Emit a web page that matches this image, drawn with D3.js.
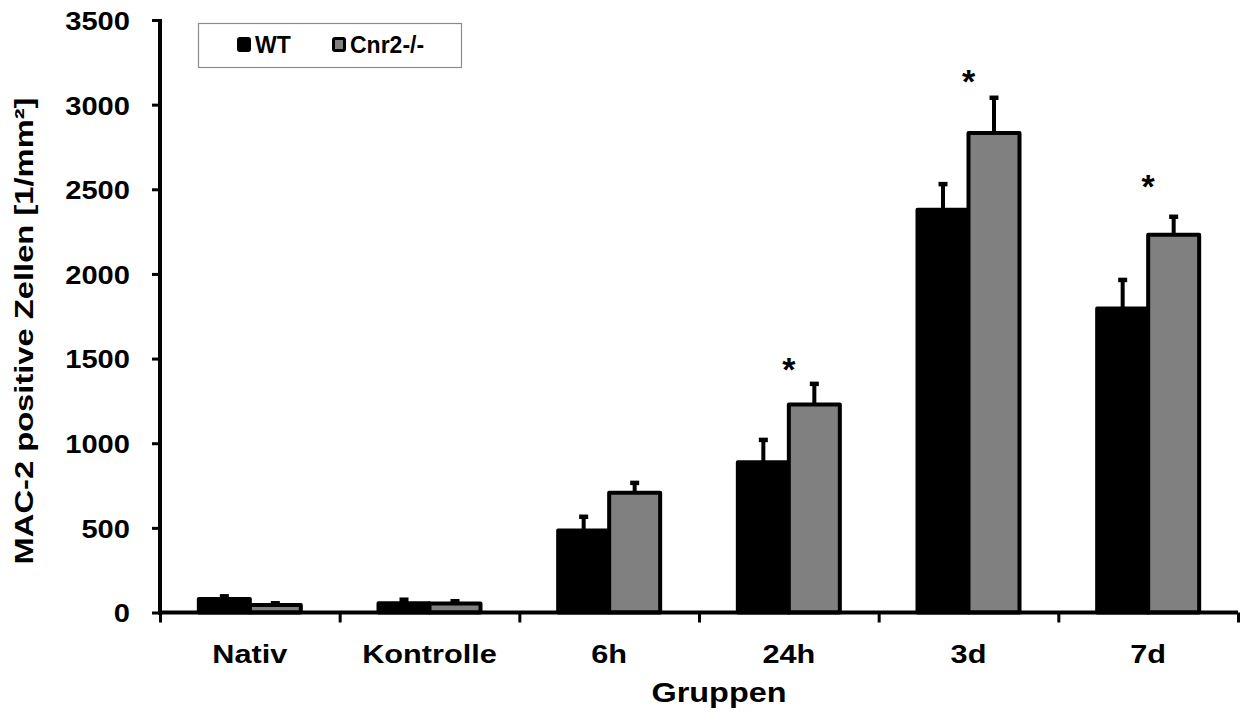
<!DOCTYPE html>
<html lang="de">
<head>
    <meta charset="UTF-8">
    <title>MAC-2 positive Zellen</title>
    <script src="https://d3js.org/d3.v7.min.js"></script>
    <style>
        body { margin: 0; background: #ffffff; }
        text { font-family: "Liberation Sans", Arial, sans-serif; font-weight: bold; fill: #000000; }
        .axis path, .axis line { stroke: #000000; }
    </style>
</head>
<body>
    <svg id="chart" width="1243" height="713"></svg>
    <script>
        // Werte
        const groups = ["Nativ", "Kontrolle", "6h", "24h", "3d", "7d"];
        const series = ["WT", "Cnr2-/-"];
        const wtMean = [80, 55, 484, 887, 2379, 1796];
        const wtErr = [17, 22, 83, 134, 153, 170];
        const koMean = [45, 53, 708, 1228, 2833, 2231];
        const koErr = [11, 15, 59, 124, 209, 108];
        // Sternchen (signifikant), Höhe in Einheiten der y-Achse
        const sigLevel = [null, null, null, 1487, 3188, 2568];
        const yTicks = [0, 500, 1000, 1500, 2000, 2500, 3000, 3500];
        const colors = ["#000000", "#808080"];

        const svg = d3.select("#chart");
        const plotLeft = 160, plotRight = 1238, plotTop = 20, plotBottom = 612.5;

        const x = d3.scaleBand().domain(groups).range([plotLeft, plotRight]);
        const xEdge = d3.scaleLinear().domain([0, groups.length]).range([plotLeft, plotRight]);
        const y = d3.scaleLinear().domain([0, 3500]).range([plotBottom, plotTop]);
        const barW = 51;

        const data = groups.map((g, i) => ({
            group: g,
            bars: [
                {s: 0, mean: wtMean[i], err: wtErr[i]},
                {s: 1, mean: koMean[i], err: koErr[i]}
            ],
            sig: sigLevel[i]
        }));

        const gGroup = svg.append("g")
            .selectAll("g")
            .data(data)
            .join("g")
            .attr("transform", d => `translate(${x(d.group) + x.bandwidth() / 2},0)`);

        // error bars (nur nach oben)
        const err = gGroup.selectAll("g.err")
            .data(d => d.bars)
            .join("g")
            .attr("class", "err");
        err.append("rect")
            .attr("x", d => (d.s === 0 ? -barW / 2 : barW / 2) - 2)
            .attr("y", d => y(d.mean + d.err))
            .attr("width", 4)
            .attr("height", d => y(d.mean) - y(d.mean + d.err))
            .attr("fill", "#000");
        err.append("rect")
            .attr("x", d => (d.s === 0 ? -barW / 2 : barW / 2) - 4.5)
            .attr("y", d => y(d.mean + d.err) - 2)
            .attr("width", 9)
            .attr("height", 4.5)
            .attr("fill", "#000");

        // bars
        gGroup.selectAll("rect.bar")
            .data(d => d.bars)
            .join("rect")
            .attr("class", "bar")
            .attr("x", d => d.s === 0 ? -barW : 0)
            .attr("y", d => y(d.mean))
            .attr("width", barW)
            .attr("height", d => y(0) - y(d.mean))
            .attr("fill", d => colors[d.s])
            .attr("stroke", "#000")
            .attr("stroke-width", 4)
            .attr("stroke-linejoin", "round");

        // Sternchen
        gGroup.filter(d => d.sig !== null)
            .append("text")
            .attr("x", 0)
            .attr("y", d => y(d.sig))
            .attr("dy", "0.6em")
            .attr("text-anchor", "middle")
            .style("font-size", "34px")
            .text("*");

        // y axis
        const yAxis = svg.append("g")
            .attr("class", "axis")
            .attr("transform", `translate(${plotLeft},0)`)
            .call(d3.axisLeft(y).tickValues(yTicks).tickSize(8).tickSizeOuter(0).tickFormat(d3.format("d")));
        yAxis.select(".domain").attr("stroke-width", 4).attr("d", `M0,${plotTop - 1}V${plotBottom + 2}`);
        yAxis.selectAll(".tick line").attr("stroke-width", 3);
        yAxis.selectAll(".tick text")
            .attr("x", 0)
            .attr("dy", "0.36em")
            .attr("text-anchor", "end")
            .attr("transform", "translate(-30,0) scale(1.12,1)")
            .style("font-size", "26px");

        // x axis: Linie und Teilstriche an den Gruppengrenzen
        const xAxis = svg.append("g")
            .attr("class", "axis")
            .attr("transform", `translate(0,${plotBottom})`)
            .call(d3.axisBottom(xEdge).tickValues(d3.range(groups.length + 1)).tickFormat("").tickSize(10).tickSizeOuter(0));
        xAxis.select(".domain").attr("stroke-width", 4).attr("d", `M${plotLeft - 2},0H${plotRight}`);
        xAxis.selectAll(".tick line").attr("stroke-width", 3);

        const xLabels = svg.append("g")
            .attr("transform", `translate(0,${plotBottom})`)
            .call(d3.axisBottom(x).tickSize(0).tickSizeOuter(0));
        xLabels.select(".domain").remove();
        xLabels.selectAll(".tick text")
            .attr("y", 0)
            .attr("dy", 0)
            .attr("transform", "translate(0,50) scale(1.18,1)")
            .style("font-size", "26px");

        // Achsentitel
        svg.append("text")
            .attr("transform", "translate(719,702) scale(1.2,1)")
            .attr("text-anchor", "middle")
            .style("font-size", "27px")
            .text("Gruppen");

        svg.append("text")
            .attr("transform", "translate(33,331) rotate(-90)")
            .attr("text-anchor", "middle")
            .attr("textLength", 467)
            .attr("lengthAdjust", "spacingAndGlyphs")
            .style("font-size", "26px")
            .text("MAC-2 positive Zellen [1/mm²]");

        // Legende
        const legend = svg.append("g");
        legend.append("rect")
            .attr("x", 198.5).attr("y", 23.5)
            .attr("width", 263).attr("height", 44)
            .attr("fill", "#fff")
            .attr("stroke", "#8c8c8c")
            .attr("stroke-width", 1.2);
        const item = legend.selectAll("g.item")
            .data(series)
            .join("g")
            .attr("class", "item")
            .attr("transform", (d, i) => `translate(${[237, 332][i]},0)`);
        item.append("rect")
            .attr("x", 1.5).attr("y", 38.5)
            .attr("width", 11).attr("height", 12)
            .attr("rx", 1.5)
            .attr("fill", (d, i) => colors[i])
            .attr("stroke", "#000")
            .attr("stroke-width", 3);
        item.append("text")
            .attr("x", 18)
            .attr("y", 53)
            .style("font-size", "23px")
            .text(d => d);
    </script>
</body>
</html>
